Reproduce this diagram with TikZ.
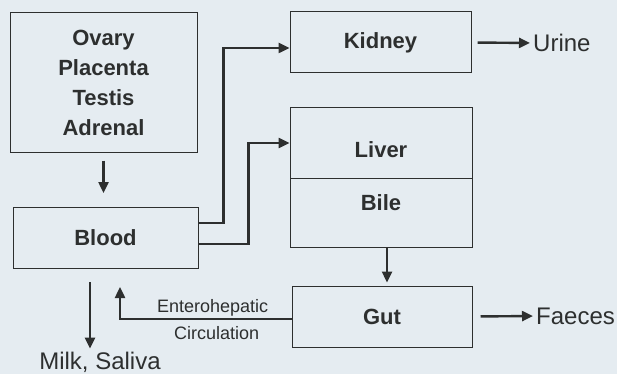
\documentclass[tikz,border=0pt]{standalone}
\usepackage{fontspec}
\setmainfont{Liberation Sans}
\usetikzlibrary{arrows.meta}
\definecolor{paper}{RGB}{229,236,241}
\definecolor{ink}{RGB}{45,47,47}

\begin{document}
\begin{tikzpicture}[
    x=1pt, y=-1pt,
    organ/.style={rectangle, draw=ink, line width=1pt, text=ink, inner sep=0pt, align=center,
        font=\fontsize{22}{30}\selectfont\bfseries},
    flow/.style={draw=ink, line width=2.4pt, -{Triangle[length=11pt,width=10pt]}},
    outlbl/.style={text=ink, inner sep=0pt, font=\fontsize{24}{28}\selectfont},
    loop/.style={text=ink, inner sep=2pt, font=\fontsize{18}{20}\selectfont}
]

\fill[paper] (0,0) rectangle (617,374);
\useasboundingbox (0,0) rectangle (617,374);

% Glands (left column)
\node[organ, minimum width=187pt, minimum height=139pt] (S) at (103.5,82.5) {Ovary\\Placenta\\Testis\\Adrenal};
\node[organ, minimum width=185pt, minimum height=61pt] (Blood) at (105.5,238) {Blood};

% Organs (right column)
\node[organ, minimum width=181pt, minimum height=61pt] (Kidney) at (380.5,42.5) {Kidney};
\node[organ, minimum width=182pt, minimum height=70pt, text height=29pt, text depth=0pt] (Liver) at (381,143) {Liver};
\node[organ, minimum width=182pt, minimum height=69pt, text height=15pt, text depth=19pt] (Bile) at (381,212.5) {Bile};
\node[organ, minimum width=180pt, minimum height=61pt] (Gut) at (382,316.5) {Gut};

% Outputs
\node[outlbl, anchor=west] (Urine) at (533,43) {Urine};
\node[outlbl, anchor=west] (Faeces) at (536,316) {Faeces};
\node[outlbl] (Milk) at (100,362) {Milk, Saliva};

% Connections
\draw[flow, shorten <=8pt, shorten >=14pt] (S.south) -- (S.south |- Blood.north);
\draw[flow] ([yshift=15pt]Blood.east) -- ++(25,0) |- ([yshift=-5.5pt]Kidney.west);
\draw[flow] ([yshift=-6pt]Blood.east) -- ++(50,0) |- (Liver.west);
\draw[flow, shorten >=3pt] ([xshift=6pt]Bile.south) -- ([xshift=6pt]Bile.south |- Gut.north);
\draw[flow, shorten <=6pt, shorten >=3pt] (Kidney.east) -- (Urine.west);
\draw[flow, shorten <=8pt, shorten >=3pt] (Gut.east) -- (Faeces.west);
\draw[flow, shorten <=13pt, shorten >=3pt] ([xshift=-15.5pt]Blood.south) -- ([xshift=-15.5pt]Blood.south |- Milk.north);

% Enterohepatic loop
\draw[flow, shorten >=18pt] ([yshift=-2.5pt]Gut.west) -| ([xshift=14.5pt]Blood.south)
    node[loop, pos=0.23, above] (Ent) {Enterohepatic}
    node[loop, pos=0.218, below=4pt] (Circ) {Circulation};

\end{tikzpicture}
\end{document}
